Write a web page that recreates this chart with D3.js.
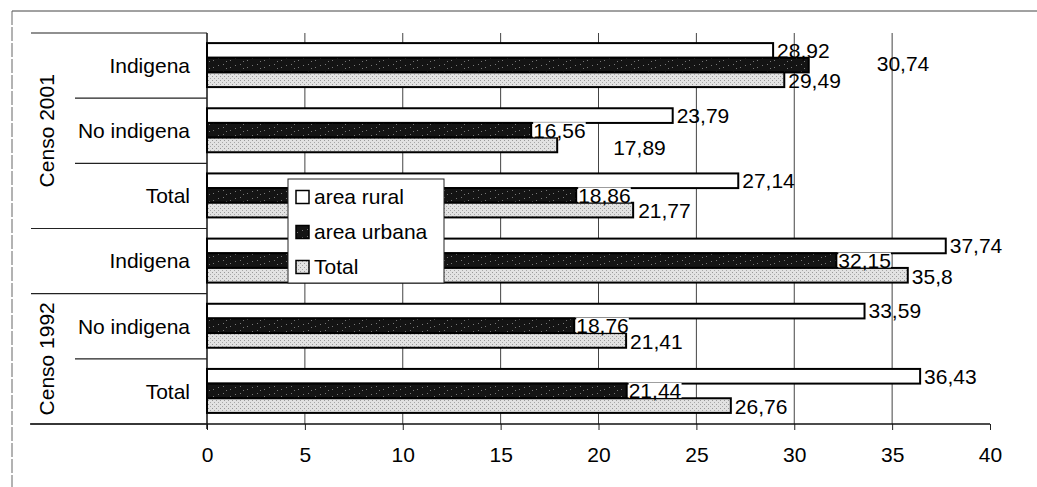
<!DOCTYPE html>
<html>
<head>
<meta charset="utf-8">
<script src="https://cdn.jsdelivr.net/npm/d3@7/dist/d3.min.js"></script>
<style>
  html, body { margin: 0; padding: 0; background: #fff; }
  svg { display: block; font-family: "Liberation Sans", Arial, sans-serif; }
</style>
</head>
<body>
<svg id="chart" width="1037" height="487"></svg>
<script>
// ---- data ----
const categories = ["Indigena", "No indigena", "Total", "Indigena", "No indigena", "Total"];
const groups = ["Censo 2001", "Censo 1992"];
const seriesNames = ["area rural", "area urbana", "Total"];
const rural  = [28.92, 23.79, 27.14, 37.74, 33.59, 36.43];
const urbana = [30.74, 16.56, 18.86, 32.15, 18.76, 21.44];
const total  = [29.49, 17.89, 21.77, 35.8, 21.41, 26.76];
const xTicks = [0, 5, 10, 15, 20, 25, 30, 35, 40];

const fmt = v => String(v).replace(".", ",");
const FS = 21;

const svg = d3.select("#chart");
const W = 1037, H = 487;
const plot = { left: 207, right: 990, top: 33, bottom: 424 };

const x = d3.scaleLinear().domain([0, 40]).range([plot.left, plot.right]);
const y = d3.scaleBand().domain(d3.range(categories.length)).range([plot.top, plot.bottom]);
const bw = y.bandwidth();
const inner = d3.scaleBand().domain([0, 1, 2]).range([bw * 0.155, bw * 0.83]);

// patterns
const defs = svg.append("defs");
const pu = defs.append("pattern").attr("id", "pUrb").attr("patternUnits", "userSpaceOnUse")
  .attr("width", 17).attr("height", 7);
pu.append("rect").attr("width", 17).attr("height", 7).attr("fill", "#141414");
[[2,1],[9,4],[14,2],[5,5]].forEach(([a,b]) => pu.append("rect").attr("x", a).attr("y", b)
  .attr("width", 1).attr("height", 1).attr("fill", "#777"));
const pt = defs.append("pattern").attr("id", "pTot").attr("patternUnits", "userSpaceOnUse")
  .attr("width", 4).attr("height", 4);
pt.append("rect").attr("width", 4).attr("height", 4).attr("fill", "#e2e2e2");
pt.append("rect").attr("x", 0).attr("y", 0).attr("width", 1).attr("height", 1).attr("fill", "#9a9a9a");
pt.append("rect").attr("x", 2).attr("y", 2).attr("width", 1).attr("height", 1).attr("fill", "#a8a8a8");
const fills = ["#ffffff", "url(#pUrb)", "url(#pTot)"];

// outer frame (scanned page border)
svg.append("line").attr("x1", 12).attr("x2", W).attr("y1", 11).attr("y2", 11)
  .attr("stroke", "#444").attr("stroke-width", 1);
svg.append("line").attr("x1", 12).attr("x2", 12).attr("y1", 11).attr("y2", H)
  .attr("stroke", "#666").attr("stroke-width", 1).attr("stroke-dasharray", "14,2");

// gridlines
svg.append("g").selectAll("line").data(xTicks.filter(t => t > 0 && t < 40)).join("line")
  .attr("x1", d => x(d)).attr("x2", d => x(d))
  .attr("y1", plot.top).attr("y2", plot.bottom)
  .attr("stroke", "#444").attr("stroke-width", 1);

// x axis
const xAxis = d3.axisBottom(x).tickValues(xTicks).tickSize(6).tickPadding(17).tickFormat(d => d);
const gx = svg.append("g").attr("transform", `translate(0,${plot.bottom})`).call(xAxis);
gx.select(".domain").remove();
gx.selectAll(".tick line").attr("stroke", "#222");
gx.selectAll(".tick text").attr("font-size", FS).attr("fill", "#000")
  .attr("font-family", "'Liberation Sans', Arial, sans-serif");
svg.append("line").attr("x1", 30).attr("x2", plot.right).attr("y1", plot.bottom).attr("y2", plot.bottom)
  .attr("stroke", "#111").attr("stroke-width", 1.5);

// category axis line
svg.append("line").attr("x1", plot.left).attr("x2", plot.left).attr("y1", plot.top).attr("y2", plot.bottom + 5)
  .attr("stroke", "#111").attr("stroke-width", 1.5);

// category separators
const bounds = d3.range(categories.length + 1);
const fullBounds = new Set([0, 3, 4, 6]);
svg.append("g").selectAll("line").data(bounds).join("line")
  .attr("x1", i => fullBounds.has(i) ? 31 : 75).attr("x2", plot.left)
  .attr("y1", i => plot.top + i * bw).attr("y2", i => plot.top + i * bw)
  .attr("stroke", "#222").attr("stroke-width", 1.2);

// category labels
svg.append("g").selectAll("text").data(categories).join("text")
  .attr("x", 190).attr("y", (d, i) => y(i) + bw / 2).attr("dy", "0.35em")
  .attr("text-anchor", "end").attr("font-size", FS).text(d => d);

// group labels
const groupSpans = [[0, 3], [4, 6]];
svg.append("g").selectAll("text").data(groups).join("text")
  .attr("transform", (d, i) => {
    const cy = plot.top + (groupSpans[i][0] + groupSpans[i][1]) / 2 * bw;
    return `translate(54,${cy}) rotate(-90)`;
  })
  .attr("text-anchor", "middle").attr("font-size", FS).text(d => d);

// bars
const series = [rural, urbana, total];
series.forEach((vals, s) => {
  svg.append("g").selectAll("rect").data(vals).join("rect")
    .attr("x", x(0))
    .attr("y", (d, i) => y(i) + inner(s))
    .attr("width", d => x(d) - x(0))
    .attr("height", inner.bandwidth())
    .attr("fill", fills[s]).attr("stroke", "#000").attr("stroke-width", 2);
});

// value labels
const labelOffsets = {
  "1-0": [68, -1], "2-1": [56, 3], "2-2": [5, 1]
};
const labelG = svg.append("g");
series.forEach((vals, s) => {
  vals.forEach((v, i) => {
    const off = labelOffsets[s + "-" + i] || [s === 1 ? 2 : 4, s === 2 ? 1 : 0];
    const lx = x(v) + off[0];
    const ly = y(i) + inner(s) + inner.bandwidth() / 2 + off[1];
    const t = labelG.append("text").attr("x", lx).attr("y", ly).attr("dy", "0.35em")
      .attr("font-size", FS).attr("fill", "#000").text(fmt(v));
    if (s === 1 && !labelOffsets[s + "-" + i]) {
      const bb = t.node().getBBox();
      labelG.insert("rect", () => t.node())
        .attr("x", bb.x).attr("y", ly - 8).attr("width", bb.width).attr("height", 15)
        .attr("fill", "#fff");
    }
  });
});

// legend
const lg = svg.append("g").attr("transform", "translate(288,179)");
lg.append("rect").attr("width", 156).attr("height", 104)
  .attr("fill", "#fff").attr("stroke", "#222").attr("stroke-width", 1);
const ly = [18, 53, 88];
seriesNames.forEach((n, i) => {
  lg.append("rect").attr("x", 8).attr("y", ly[i] - 6.5).attr("width", 13).attr("height", 13)
    .attr("fill", fills[i]).attr("stroke", "#000").attr("stroke-width", 1.5);
  lg.append("text").attr("x", 26).attr("y", ly[i]).attr("dy", "0.35em")
    .attr("font-size", FS).text(n);
});
</script>
</body>
</html>
